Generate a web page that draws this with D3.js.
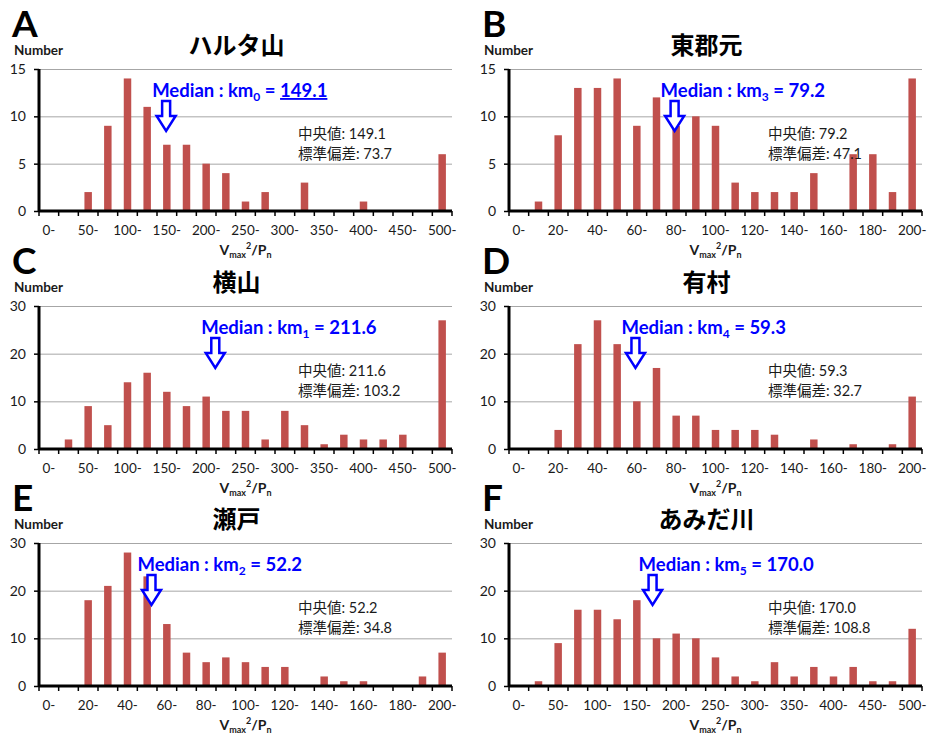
<!DOCTYPE html>
<html>
<head>
<meta charset="utf-8">
<script src="https://cdn.jsdelivr.net/npm/d3@7"></script>
<style>
  body { margin: 0; background: #fff; }
  svg { display: block; }
  text { font-family: Lato, "Noto Sans CJK JP", sans-serif; }
</style>
</head>
<body>
<svg id="chart" width="927" height="738"></svg>
<script>
// ---- data ---------------------------------------------------------------
const panelLetters = ["A", "B", "C", "D", "E", "F"];
const siteNames = ["ハルタ山", "東郡元", "横山", "有村", "瀬戸", "あみだ川"];

// bin categories (lower bound of each class) and the labels shown under them
const binsWide = ["0-", "25-", "50-", "75-", "100-", "125-", "150-", "175-", "200-", "225-", "250-",
                  "275-", "300-", "325-", "350-", "375-", "400-", "425-", "450-", "475-", "500-"];
const binsNarrow = ["0-", "10-", "20-", "30-", "40-", "50-", "60-", "70-", "80-", "90-", "100-",
                    "110-", "120-", "130-", "140-", "150-", "160-", "170-", "180-", "190-", "200-"];
const labelsWide = ["0-", "50-", "100-", "150-", "200-", "250-", "300-", "350-", "400-", "450-", "500-"];
const labelsNarrow = ["0-", "20-", "40-", "60-", "80-", "100-", "120-", "140-", "160-", "180-", "200-"];
const binStartWide = [0, 500];
const binStartNarrow = [0, 200];

// counts per class for each site
const countsHarutayama = [0, 0, 2, 9, 14, 11, 7, 7, 5, 4, 1, 2, 0, 3, 0, 0, 1, 0, 0, 0, 6];
const countsKorimoto   = [0, 1, 8, 13, 13, 14, 9, 12, 9, 10, 9, 3, 2, 2, 2, 4, 0, 6, 6, 2, 14];
const countsYokoyama   = [0, 2, 9, 5, 14, 16, 12, 9, 11, 8, 8, 2, 8, 5, 1, 3, 2, 2, 3, 0, 27];
const countsArimura    = [0, 0, 4, 22, 27, 22, 10, 17, 7, 7, 4, 4, 4, 3, 0, 2, 0, 1, 0, 1, 11];
const countsSeto       = [0, 0, 18, 21, 28, 23, 13, 7, 5, 6, 5, 4, 4, 0, 2, 1, 1, 0, 0, 2, 7];
const countsAmidagawa  = [0, 1, 9, 16, 16, 14, 18, 10, 11, 10, 6, 2, 1, 5, 2, 4, 2, 4, 1, 1, 12];

const yTicksSmall = [0, 5, 10, 15];
const yTicksLarge = [0, 10, 20, 30];

const medians = [149.1, 79.2, 211.6, 59.3, 52.2, 170.0];
const stdevs  = [73.7, 47.1, 103.2, 32.7, 34.8, 108.8];
const kmIndex = [0, 3, 1, 4, 2, 5];

// ---- panel setup ------------------------------------------------------
const panels = [
  { counts: countsHarutayama, bins: binsWide,   labels: labelsWide,   span: binStartWide,   ticks: yTicksSmall, underline: true },
  { counts: countsKorimoto,   bins: binsNarrow, labels: labelsNarrow, span: binStartNarrow, ticks: yTicksSmall },
  { counts: countsYokoyama,   bins: binsWide,   labels: labelsWide,   span: binStartWide,   ticks: yTicksLarge },
  { counts: countsArimura,    bins: binsNarrow, labels: labelsNarrow, span: binStartNarrow, ticks: yTicksLarge },
  { counts: countsSeto,       bins: binsNarrow, labels: labelsNarrow, span: binStartNarrow, ticks: yTicksLarge },
  { counts: countsAmidagawa,  bins: binsWide,   labels: labelsWide,   span: binStartWide,   ticks: yTicksLarge }
];

const colLeft = [39, 509], colRight = [452, 922];
const rowTop = [69, 306, 543], rowBottom = [211, 449, 686];

const BAR = "#c0504d", BLUE = "#0000ff", INK = "#1a1a1a";
const svg = d3.select("#chart");
svg.append("rect").attr("width", 927).attr("height", 738).attr("fill", "#fff");

panels.forEach((p, i) => {
  const L = colLeft[i % 2], R = colRight[i % 2];
  const T = rowTop[Math.floor(i / 2)], B = rowBottom[Math.floor(i / 2)];
  const g = svg.append("g");

  const x = d3.scaleBand().domain(p.bins).range([L, R]).paddingInner(0.62).paddingOuter(0.31);
  const y = d3.scaleLinear().domain([0, p.ticks[p.ticks.length - 1]]).range([B, T]);
  // continuous position along the class axis (0 at the centre of the first class)
  const xv = d3.scaleLinear().domain(p.span)
    .range([x(p.bins[0]) + x.bandwidth() / 2, x(p.bins[p.bins.length - 1]) + x.bandwidth() / 2]);

  // gridlines
  const grid = g.append("g").attr("transform", `translate(${L},0)`)
    .call(d3.axisLeft(y).tickValues(p.ticks.slice(1)).tickSize(-(R - L)).tickFormat(""));
  grid.select(".domain").remove();
  grid.selectAll(".tick line").attr("stroke", "#a6a6a6").attr("stroke-width", 1);

  // bars
  g.selectAll("rect.bar").data(p.counts).join("rect")
    .attr("class", "bar")
    .attr("x", (d, j) => x(p.bins[j]))
    .attr("width", x.bandwidth())
    .attr("y", d => y(d))
    .attr("height", d => B - y(d))
    .attr("fill", BAR);

  // y axis
  const ya = g.append("g").attr("transform", `translate(${L},0)`)
    .call(d3.axisLeft(y).tickValues(p.ticks).tickSize(5).tickPadding(8));
  ya.select(".domain").attr("stroke", "#000").attr("stroke-width", 3).attr("d", `M0,${T}V${B}`);
  ya.selectAll(".tick line").attr("stroke", "#000").attr("stroke-width", 1.5);
  ya.selectAll(".tick text").attr("fill", INK).attr("font-size", 14).attr("font-family", "Lato, sans-serif");

  // x axis: class labels on every other class, ticks on class boundaries
  const xa = g.append("g").attr("transform", `translate(0,${B})`)
    .call(d3.axisBottom(x).tickSize(0).tickPadding(14)
      .tickFormat(d => p.labels.includes(d) ? d : ""));
  xa.select(".domain").attr("stroke", "#000").attr("stroke-width", 3).attr("d", `M${L},0H${R}`);
  xa.selectAll(".tick text").attr("fill", INK).attr("font-size", 13.5).attr("font-family", "Lato, sans-serif");
  const bounds = d3.range(p.bins.length + 1).map(k => L + k * x.step());
  g.selectAll("line.xb").data(bounds).join("line")
    .attr("class", "xb")
    .attr("x1", d => d).attr("x2", d => d)
    .attr("y1", B).attr("y2", B + 5)
    .attr("stroke", "#000").attr("stroke-width", 1.5);

  // x axis title
  const xt = g.append("text").attr("x", (L + R) / 2).attr("y", B + 44)
    .attr("text-anchor", "middle").attr("font-weight", 700).attr("fill", INK).attr("font-size", 14);
  xt.append("tspan").text("V");
  xt.append("tspan").attr("font-size", 9).attr("dy", 3).text("max");
  xt.append("tspan").attr("font-size", 9).attr("dy", -9).text("2");
  xt.append("tspan").attr("dy", 6).text("/P");
  xt.append("tspan").attr("font-size", 9).attr("dy", 3).text("n");

  // panel letter, axis caption and site title
  g.append("text").attr("x", L - 27).attr("y", T - 32)
    .attr("font-family", "Liberation Sans, Arial, sans-serif").attr("font-weight", 700)
    .attr("font-size", 37).attr("fill", "#000").text(panelLetters[i]);
  g.append("text").attr("x", L - 25).attr("y", T - 14)
    .attr("font-weight", 700).attr("font-size", 13.5).attr("fill", INK).text("Number");
  g.append("text").attr("x", (L + R) / 2 - 9).attr("y", T - 15)
    .attr("text-anchor", "middle").attr("font-family", "Noto Sans CJK JP, sans-serif")
    .attr("font-weight", 700).attr("font-size", 24).attr("fill", "#000").text(siteNames[i]);

  // median marker
  const mx = xv(medians[i]);
  const sw = 4, hw = 9.5, top = T + 32, neck = T + 47, tip = T + 62;
  g.append("path")
    .attr("d", `M${mx - sw},${top}H${mx + sw}V${neck}H${mx + hw}L${mx},${tip}L${mx - hw},${neck}H${mx - sw}Z`)
    .attr("fill", "#fff").attr("stroke", BLUE).attr("stroke-width", 2.5).attr("stroke-linejoin", "miter");

  const mt = g.append("text").attr("x", mx - 14).attr("y", T + 28)
    .attr("font-weight", 700).attr("font-size", 18.5).attr("fill", BLUE);
  mt.append("tspan").text("Median : km");
  mt.append("tspan").attr("font-size", 12).attr("dy", 4).text(kmIndex[i]);
  mt.append("tspan").attr("dy", -4).text(" = ");
  const mv = mt.append("tspan").text(d3.format(".1f")(medians[i]));
  if (p.underline) mv.attr("text-decoration", "underline");

  // summary statistics
  const st = g.append("g").attr("font-size", 14.5).attr("fill", INK);
  st.append("text").attr("x", L + 259).attr("y", T + 70).text(`中央値: ${d3.format(".1f")(medians[i])}`);
  st.append("text").attr("x", L + 259).attr("y", T + 90).text(`標準偏差: ${d3.format(".1f")(stdevs[i])}`);
});
</script>
</body>
</html>
